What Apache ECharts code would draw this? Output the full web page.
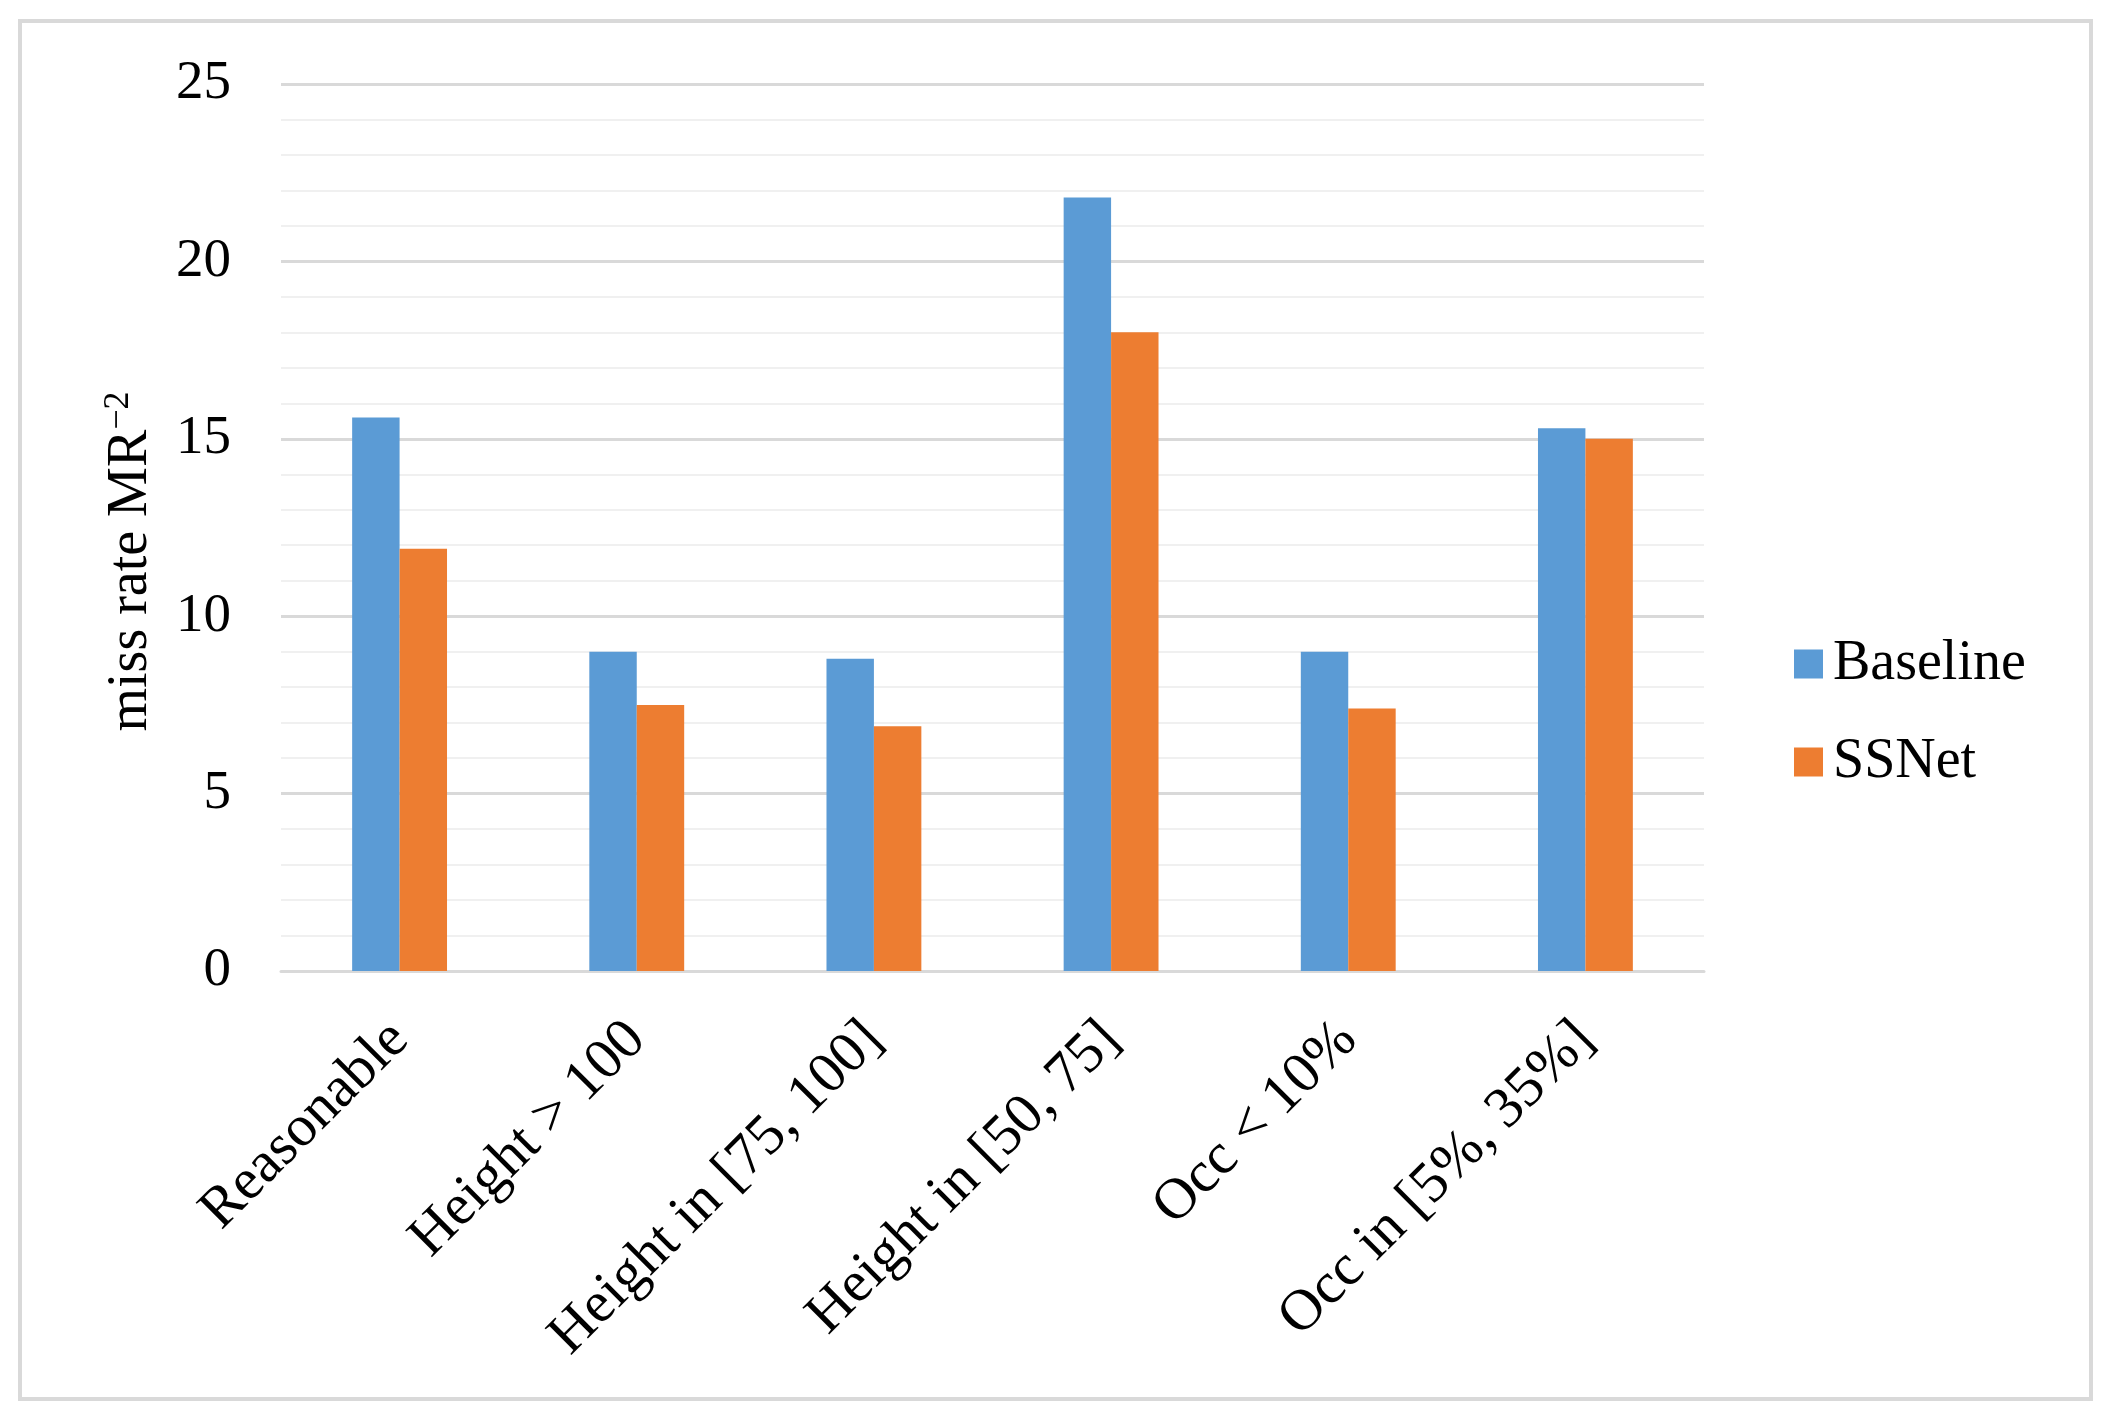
<!DOCTYPE html>
<html>
<head>
<meta charset="utf-8">
<script src="https://cdn.jsdelivr.net/npm/echarts@6/dist/echarts.min.js"></script>
<style>
html,body{margin:0;padding:0;background:#fff;}
#chart{width:2117px;height:1416px;}
</style>
</head>
<body>
<div id="chart"></div>
<script>
const categories = ["Reasonable", "Height > 100", "Height in [75, 100]", "Height in [50, 75]", "Occ < 10%", "Occ in [5%, 35%]"];
const baseline = [15.6, 9.0, 8.8, 21.8, 9.0, 15.3];
const ssnet = [11.9, 7.5, 6.9, 18.0, 7.4, 15.0];
const seriesNames = ["Baseline", "SSNet"];
const yTicks = { min: 0, max: 25, interval: 5 };

const FONT = "'Liberation Serif', 'Times New Roman', serif";
const chart = echarts.init(document.getElementById('chart'), null, { renderer: 'canvas' });
chart.setOption({
  backgroundColor: '#ffffff',
  animation: false,
  textStyle: { fontFamily: FONT, color: '#000' },
  graphic: [{
    type: 'rect',
    shape: { x: 20, y: 21, width: 2071, height: 1378 },
    style: { fill: 'none', stroke: '#d9d9d9', lineWidth: 4 },
    silent: true
  }],
  grid: { left: 281, right: 413, top: 84, bottom: 445, containLabel: false },
  legend: {
    orient: 'vertical',
    left: 1789,
    top: 631,
    itemWidth: 29,
    itemHeight: 29,
    itemGap: 42,
    icon: 'rect',
    data: seriesNames,
    textStyle: { fontFamily: FONT, fontSize: 56, color: '#000', padding: [0, 0, 0, 5] }
  },
  xAxis: {
    type: 'category',
    data: categories,
    axisTick: { show: false },
    axisLine: { show: true, lineStyle: { color: '#d9d9d9', width: 3 } },
    axisLabel: { interval: 0, rotate: 45, fontSize: 58, color: '#000', fontFamily: FONT, margin: 60 }
  },
  yAxis: {
    type: 'value',
    min: yTicks.min,
    max: yTicks.max,
    interval: yTicks.interval,
    name: 'miss rate MR{sup|\u22122}',
    nameLocation: 'middle',
    nameRotate: 90,
    nameGap: 120,
    nameTextStyle: {
      fontFamily: FONT, fontSize: 56, color: '#000', padding: [0, 68, 0, 0],
      rich: { sup: { fontFamily: FONT, fontSize: 36, color: '#000', verticalAlign: 'top', padding: [0, 0, 24, 0] } }
    },
    axisLine: { show: false },
    axisTick: { show: false },
    axisLabel: { fontSize: 55, color: '#000', fontFamily: FONT, margin: 50 },
    splitLine: { show: true, lineStyle: { color: '#d9d9d9', width: 3 } },
    minorTick: { show: false, splitNumber: 5 },
    minorSplitLine: { show: true, lineStyle: { color: '#f0f0f0', width: 2 } }
  },
  series: [
    { name: seriesNames[0], type: 'bar', data: baseline, barWidth: '20%', barGap: '0%', itemStyle: { color: '#5B9BD5' } },
    { name: seriesNames[1], type: 'bar', data: ssnet, barWidth: '20%', barGap: '0%', itemStyle: { color: '#ED7D31' } }
  ]
});
</script>
</body>
</html>
